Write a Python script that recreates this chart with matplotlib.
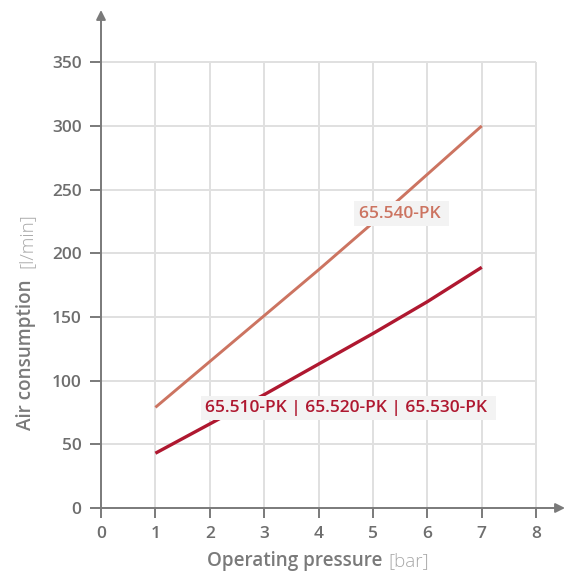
import numpy as np
import matplotlib
matplotlib.use('Agg')
import matplotlib.pyplot as plt

plt.rcParams['font.family'] = ['Open Sans', 'DejaVu Sans']

# Data
pressure = [1, 2, 3, 4, 5, 6, 7]
air_540 = [79, 115, 151, 187, 224, 262, 300]
air_510 = [43, 66, 89, 113, 137, 162, 189]
x_ticks = [0, 1, 2, 3, 4, 5, 6, 7, 8]
y_ticks = [0, 50, 100, 150, 200, 250, 300, 350]
label_540 = '65.540-PK '
label_510 = '65.510-PK | 65.520-PK | 65.530-PK '

c_light = '#cc7461'
c_dark = '#af1830'
c_axis = '#7a7a7a'
c_text = '#6e6e6e'
c_grid = '#e0e0e0'

fig = plt.figure(figsize=(5.67, 5.74), dpi=100)
ax = fig.add_axes([101 / 567, 66 / 574, 464 / 567, 498 / 574])
ax.set_xlim(0, 8.53)
ax.set_ylim(0, 391)
for s in ax.spines.values():
    s.set_visible(False)

# grid, limited to the tick range
ax.vlines(x_ticks[1:], 0, y_ticks[-1], color=c_grid, lw=1.4, zorder=0)
ax.hlines(y_ticks[1:], 0, x_ticks[-1], color=c_grid, lw=1.4, zorder=0)

# axes with arrows
arrow = dict(arrowstyle='-|>', color=c_axis, lw=1.4, mutation_scale=14, shrinkA=0, shrinkB=0)
ax.annotate('', xy=(8.53, 0), xytext=(0, 0), arrowprops=arrow, annotation_clip=False)
ax.annotate('', xy=(0, 391), xytext=(0, 0), arrowprops=arrow, annotation_clip=False)

ax.plot(pressure, air_540, color=c_light, lw=2.1, solid_capstyle='butt', zorder=3)
ax.plot(pressure, air_510, color=c_dark, lw=2.4, solid_capstyle='butt', zorder=3)

box = dict(boxstyle='square,pad=0.25', facecolor='#f3f3f3', edgecolor='none')
ax.text(5.53, 231, label_540, color=c_light, fontsize=12.5, fontweight='semibold',
        ha='center', va='center', bbox=box, zorder=4)
ax.text(4.55, 78.5, label_510, color=c_dark, fontsize=12.5, fontweight='semibold',
        ha='center', va='center', bbox=box, zorder=4)

ax.set_xticks(x_ticks)
ax.set_yticks(y_ticks)
ax.tick_params(axis='both', direction='out', color=c_axis, width=1.4,
               labelcolor=c_text, labelsize=12.5)
ax.tick_params(axis='x', length=7, pad=6)
ax.tick_params(axis='y', length=8, pad=6)
for lab in ax.get_xticklabels() + ax.get_yticklabels():
    lab.set_fontweight('semibold')

# axis titles in two weights
fig.text(382 / 567, 1 - 561 / 574, 'Operating pressure', color=c_axis, fontsize=13.6,
         fontweight='semibold', ha='right', va='center')
fig.text(388 / 567, 1 - 561 / 574, '[bar]', color='#a8a8a8', fontsize=13.6,
         fontweight='light', ha='left', va='center')
fig.text(26 / 567, 1 - 279 / 574, 'Air consumption', color=c_axis, fontsize=13.6,
         fontweight='semibold', rotation=90, rotation_mode='anchor', ha='right', va='center')
fig.text(26 / 567, 1 - 268 / 574, '[l/min]', color='#a8a8a8', fontsize=13.6,
         fontweight='light', rotation=90, rotation_mode='anchor', ha='left', va='center')

fig.savefig('out.png', dpi=100)
